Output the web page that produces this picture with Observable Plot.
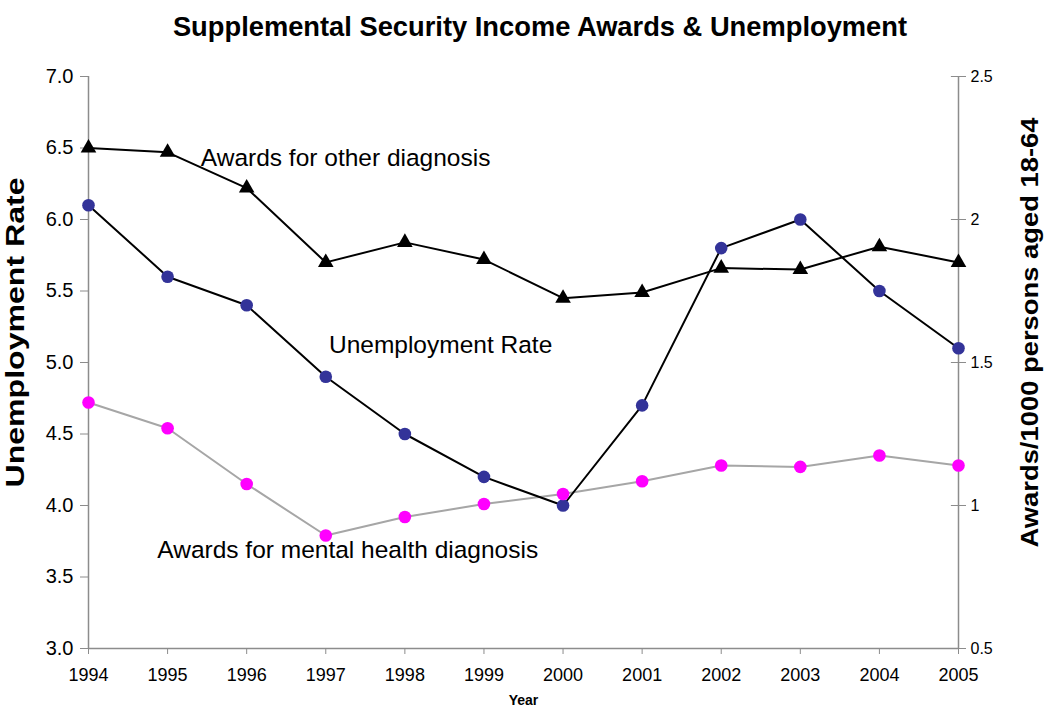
<!DOCTYPE html>
<html>
<head>
<meta charset="utf-8">
<script src="https://cdn.jsdelivr.net/npm/d3@7"></script>
<script src="https://cdn.jsdelivr.net/npm/@observablehq/plot@0.6"></script>
<style>
  body { margin: 0; background: #fff; }
  #wrap { width: 1050px; height: 715px; position: relative; font-family: Arial, "Liberation Sans", sans-serif; }
  #title { position: absolute; left: 0; top: 10px; width: 1080px; text-align: center; font-weight: bold; font-size: 27.3px; line-height: 33px; color: #000; }
  #chart { position: absolute; left: 0; top: 50px; }
</style>
</head>
<body>
<div id="wrap">
  <div id="title">Supplemental Security Income Awards &amp; Unemployment</div>
  <div id="chart"></div>
</div>
<script>
const years = [1994, 1995, 1996, 1997, 1998, 1999, 2000, 2001, 2002, 2003, 2004, 2005];
const unemployment = [6.1, 5.6, 5.4, 4.9, 4.5, 4.2, 4.0, 4.7, 5.8, 6.0, 5.5, 5.1];
const otherAwards = [2.25, 2.235, 2.11, 1.85, 1.92, 1.86, 1.725, 1.745, 1.83, 1.825, 1.905, 1.85];
const mentalAwards = [1.36, 1.27, 1.075, 0.895, 0.96, 1.005, 1.04, 1.085, 1.14, 1.135, 1.175, 1.14];
const leftTicks = [3.0, 3.5, 4.0, 4.5, 5.0, 5.5, 6.0, 6.5, 7.0];
const rightTicks = [0.5, 1, 1.5, 2, 2.5];
const annotations = [
  {text: "Awards for other diagnosis", year: 1995.42, value: 6.43},
  {text: "Unemployment Rate", year: 1997.04, value: 5.12},
  {text: "Awards for mental health diagnosis", year: 1994.87, value: 3.69}
];

// right axis (0.5..2.5) mapped onto left axis (3..7)
const toLeft = v => 3 + (v - 0.5) * 2;

const unemp = years.map((y, i) => ({year: y, v: unemployment[i]}));
const other = years.map((y, i) => ({year: y, v: toLeft(otherAwards[i])}));
const mental = years.map((y, i) => ({year: y, v: toLeft(mentalAwards[i])}));

const axisGray = "#8c8c8c";
const narrow = "'Liberation Sans Narrow', 'Arial Narrow', sans-serif";

const plot = Plot.plot({
  width: 1050,
  height: 665,
  marginTop: 26,
  marginBottom: 67,
  marginLeft: 88,
  marginRight: 92,
  style: {fontFamily: "Arial, 'Liberation Sans', sans-serif", background: "#fff", color: "#000"},
  x: {type: "linear", domain: [1994, 2005]},
  y: {type: "linear", domain: [3, 7]},
  marks: [
    Plot.ruleX([1994, 2005], {stroke: axisGray, strokeWidth: 1.5}),
    Plot.ruleY([3], {stroke: axisGray, strokeWidth: 1.5}),
    Plot.axisX({
      ticks: years, tickFormat: d => String(d), tickSize: 6, tickPadding: 14,
      stroke: axisGray, fontSize: 18, fontFamily: narrow, label: null
    }),
    Plot.axisY({
      anchor: "left", ticks: leftTicks, tickFormat: d3.format(".1f"), tickSize: 8, tickPadding: 7,
      stroke: axisGray, fontSize: 20, label: null
    }),
    Plot.axisY({
      anchor: "right", ticks: rightTicks.map(toLeft), tickFormat: d => String((d - 3) / 2 + 0.5),
      tickSize: 7, tickPadding: 5, stroke: axisGray, fontSize: 16, label: null
    }),
    Plot.ruleY(rightTicks.map(toLeft), {y: d => d, x1: 2004.91, x2: 2005, stroke: axisGray, strokeWidth: 1}),
    Plot.lineY(mental, {x: "year", y: "v", stroke: "#a6a6a6", strokeWidth: 2}),
    Plot.lineY(other, {x: "year", y: "v", stroke: "#000", strokeWidth: 2}),
    Plot.lineY(unemp, {x: "year", y: "v", stroke: "#000", strokeWidth: 2}),
    Plot.dot(other, {x: "year", y: "v", symbol: "triangle", fill: "#000", r: 5.8}),
    Plot.dot(unemp, {x: "year", y: "v", fill: "#333399", r: 6.3}),
    Plot.dot(mental, {x: "year", y: "v", fill: "#ff00ff", r: 6.3}),
    Plot.text(annotations, {x: "year", y: "value", text: "text", textAnchor: "start", fontSize: 24.5, fill: "#000"}),
    Plot.text(["Year"], {frameAnchor: "bottom", dy: 56, fontSize: 14, fontWeight: "bold", fontFamily: narrow, fill: "#000"}),
    Plot.text(["Unemployment Rate"], {frameAnchor: "left", dx: -73, dy: -30, rotate: -90, textAnchor: "middle", fontSize: 25, fontWeight: "bold", fill: "#000"}),
    Plot.text(["Awards/1000 persons aged 18-64"], {frameAnchor: "right", dx: 72, dy: -30, rotate: -90, textAnchor: "middle", fontSize: 24, fontWeight: "bold", fill: "#000"})
  ]
});

// stretch the rotated axis titles along their length, as in the reference
d3.select(plot).selectAll("text").each(function() {
  const t = this.getAttribute("transform") || "";
  if (!t.includes("rotate")) return;
  const len = this.textContent === "Unemployment Rate" ? 310 : 430;
  this.setAttribute("textLength", len);
  this.setAttribute("lengthAdjust", "spacingAndGlyphs");
});

document.getElementById("chart").appendChild(plot);
</script>
</body>
</html>
